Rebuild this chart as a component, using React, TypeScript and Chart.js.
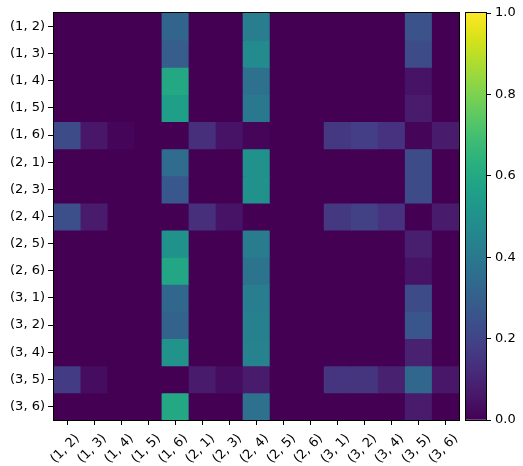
import React, { useEffect, useRef } from "react";
import { Chart, registerables } from "chart.js";

Chart.register(...registerables);

const labels = ["(1, 2)", "(1, 3)", "(1, 4)", "(1, 5)", "(1, 6)", "(2, 1)", "(2, 3)", "(2, 4)", "(2, 5)", "(2, 6)", "(3, 1)", "(3, 2)", "(3, 4)", "(3, 5)", "(3, 6)"];

// rows top to bottom, columns left to right
const row_1_2 = [0, 0, 0, 0, 0.32, 0, 0, 0.42, 0, 0, 0, 0, 0, 0.25, 0];
const row_1_3 = [0, 0, 0, 0, 0.29, 0, 0, 0.47, 0, 0, 0, 0, 0, 0.23, 0];
const row_1_4 = [0, 0, 0, 0, 0.6, 0, 0, 0.37, 0, 0, 0, 0, 0, 0.05, 0];
const row_1_5 = [0, 0, 0, 0, 0.56, 0, 0, 0.4, 0, 0, 0, 0, 0, 0.07, 0];
const row_1_6 = [0.23, 0.06, 0.01, 0, 0, 0.13, 0.05, 0.01, 0, 0, 0.16, 0.18, 0.14, 0.01, 0.07];
const row_2_1 = [0, 0, 0, 0, 0.35, 0, 0, 0.5, 0, 0, 0, 0, 0, 0.23, 0];
const row_2_3 = [0, 0, 0, 0, 0.27, 0, 0, 0.5, 0, 0, 0, 0, 0, 0.23, 0];
const row_2_4 = [0.24, 0.07, 0, 0, 0, 0.13, 0.05, 0, 0, 0, 0.16, 0.19, 0.14, 0, 0.07];
const row_2_5 = [0, 0, 0, 0, 0.5, 0, 0, 0.41, 0, 0, 0, 0, 0, 0.08, 0];
const row_2_6 = [0, 0, 0, 0, 0.59, 0, 0, 0.38, 0, 0, 0, 0, 0, 0.05, 0];
const row_3_1 = [0, 0, 0, 0, 0.33, 0, 0, 0.42, 0, 0, 0, 0, 0, 0.23, 0];
const row_3_2 = [0, 0, 0, 0, 0.31, 0, 0, 0.43, 0, 0, 0, 0, 0, 0.26, 0];
const row_3_4 = [0, 0, 0, 0, 0.51, 0, 0, 0.44, 0, 0, 0, 0, 0, 0.09, 0];
const row_3_5 = [0.17, 0.03, 0, 0, 0, 0.07, 0.03, 0.07, 0, 0, 0.15, 0.15, 0.09, 0.33, 0.06];
const row_3_6 = [0, 0, 0, 0, 0.6, 0, 0, 0.37, 0, 0, 0, 0, 0, 0.07, 0];

const matrix = [row_1_2, row_1_3, row_1_4, row_1_5, row_1_6, row_2_1, row_2_3, row_2_4, row_2_5, row_2_6, row_3_1, row_3_2, row_3_4, row_3_5, row_3_6];

const colorbarTicks = [0, 0.2, 0.4, 0.6, 0.8, 1.0];

const viridis = ["#440154", "#48186a", "#472d7b", "#424086", "#3b528b", "#33638d", "#2c728e", "#26828e", "#21918c", "#1fa088", "#28ae80", "#3fbc73", "#5ec962", "#84d44b", "#addc30", "#d8e219", "#fde725"];

function hexToRgb(h: string) {
  return [parseInt(h.slice(1, 3), 16), parseInt(h.slice(3, 5), 16), parseInt(h.slice(5, 7), 16)];
}
function viridisColor(v: number) {
  const t = Math.max(0, Math.min(1, v)) * (viridis.length - 1);
  const i = Math.min(viridis.length - 2, Math.floor(t));
  const f = t - i;
  const a = hexToRgb(viridis[i]);
  const b = hexToRgb(viridis[i + 1]);
  const c = a.map((x, k) => Math.round(x + (b[k] - x) * f));
  return `rgb(${c[0]},${c[1]},${c[2]})`;
}

const FONT = { family: "'DejaVu Sans', sans-serif", size: 13 };

const frame = {
  id: "frame",
  afterDraw(chart: any) {
    const { ctx, chartArea: a } = chart;
    ctx.save();
    ctx.strokeStyle = "#000";
    ctx.lineWidth = 1;
    ctx.strokeRect(Math.round(a.left) - 0.5, Math.round(a.top) - 0.5, Math.round(a.right - a.left) + 1, Math.round(a.bottom - a.top) + 1);
    ctx.restore();
  },
};

export default function App() {
  const mainRef = useRef<HTMLCanvasElement>(null);
  const barRef = useRef<HTMLCanvasElement>(null);

  useEffect(() => {
    const datasets = matrix.map((row, ri) => ({
      label: labels[ri],
      data: row.map(() => [ri, ri + 1]),
      backgroundColor: row.map((v) => viridisColor(v)),
      borderWidth: 0,
      inflateAmount: 0.5,
      barPercentage: 1,
      categoryPercentage: 1,
    }));
    const main = new Chart(mainRef.current!, {
      type: "bar",
      data: { labels, datasets },
      options: {
        responsive: false,
        animation: false,
        layout: { padding: { top: 13, right: 2, left: 0, bottom: 0 } },
        plugins: { legend: { display: false }, tooltip: { enabled: false } },
        scales: {
          x: {
            stacked: true,
            border: { display: false },
            grid: { display: true, drawOnChartArea: false, drawTicks: true, tickLength: 5, color: "#000", offset: false },
            ticks: { color: "#000", font: FONT, minRotation: 45, maxRotation: 45, padding: 6, labelOffset: 10, autoSkip: false },
            afterFit: (s: any) => { s.height = 46; },
          },
          y: {
            type: "linear",
            min: 0,
            max: labels.length,
            reverse: true,
            border: { display: false },
            grid: { display: true, drawOnChartArea: false, drawTicks: true, tickLength: 6, color: "#000" },
            ticks: { color: "#000", font: FONT, padding: 3, callback: (v: any) => labels[Math.floor(Number(v))] },
            afterBuildTicks: (s: any) => { s.ticks = labels.map((_, i) => ({ value: i + 0.5 })); },
            afterFit: (s: any) => { s.width = 54; },
          },
        },
      },
      plugins: [frame],
    } as any);

    const bar = new Chart(barRef.current!, {
      type: "bar",
      data: {
        labels: [""],
        datasets: [{
          data: [1],
          borderWidth: 0,
          barPercentage: 1,
          categoryPercentage: 1,
          backgroundColor: (ctx: any) => {
            const area = ctx.chart.chartArea;
            if (!area) return viridis[0];
            const g = ctx.chart.ctx.createLinearGradient(0, area.bottom, 0, area.top);
            viridis.forEach((c, i) => g.addColorStop(i / (viridis.length - 1), c));
            return g;
          },
        }],
      },
      options: {
        responsive: false,
        animation: false,
        layout: { padding: { top: 13, bottom: 46, left: 3, right: 0 } },
        plugins: { legend: { display: false }, tooltip: { enabled: false } },
        scales: {
          x: { display: false },
          y: {
            position: "right",
            min: 0,
            max: 1,
            border: { display: false },
            grid: { display: true, drawOnChartArea: false, drawTicks: true, tickLength: 5, color: "#000" },
            ticks: { color: "#000", font: FONT, padding: 4, callback: (v: any) => Number(v).toFixed(1) },
            afterBuildTicks: (s: any) => { s.ticks = colorbarTicks.map((v) => ({ value: v })); },
            afterFit: (s: any) => { s.width = 37; },
          },
        },
      },
      plugins: [frame],
    } as any);

    return () => { main.destroy(); bar.destroy(); };
  }, []);

  return (
    <div style={{ position: "fixed", left: 0, top: 0, width: 523, height: 466, background: "#fff" }}>
      <canvas ref={mainRef} width={463} height={466} style={{ position: "absolute", left: 0, top: 0 }} />
      <canvas ref={barRef} width={60} height={466} style={{ position: "absolute", left: 463, top: 0 }} />
    </div>
  );
}
